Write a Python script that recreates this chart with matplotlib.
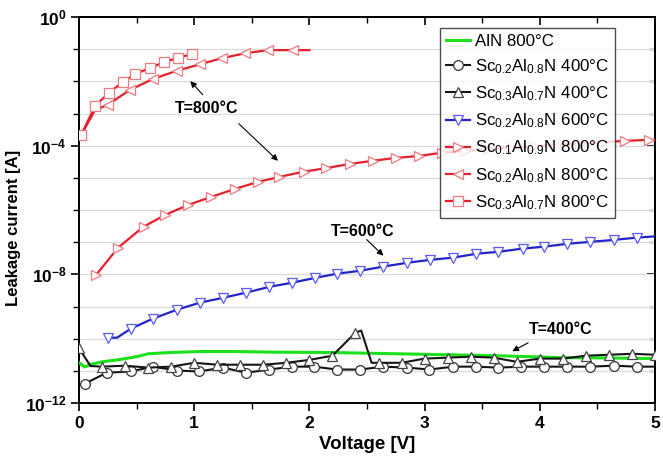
import numpy as np
import matplotlib
matplotlib.use("Agg")
import matplotlib.pyplot as plt
from matplotlib.ticker import FixedLocator, NullFormatter, FixedFormatter

# -----------------------
# Data (current as log10 exponent)
# -----------------------
aln_800_v = [0, 0.05, 0.1, 0.2, 0.35, 0.5, 0.6, 0.8, 1.05, 1.35, 1.7, 2.18,
             2.76, 3.2, 3.63, 4.2, 4.6, 5.0]
aln_800_log = [-10.75, -10.88, -10.8, -10.72, -10.65, -10.56, -10.47, -10.43,
               -10.40, -10.40, -10.42, -10.43, -10.47, -10.5, -10.53, -10.59,
               -10.6, -10.62]

sc02_400_v = [0.05, 0.24, 0.45, 0.64, 0.85, 1.04, 1.25, 1.45, 1.65, 1.85, 2.04,
              2.24, 2.44, 2.64, 2.85, 3.04, 3.25, 3.45, 3.64, 3.84, 4.04, 4.24,
              4.44, 4.64, 4.84, 5.0]
sc02_400_log = [-11.4, -11.06, -11.02, -10.87, -10.99, -11.02, -10.9, -11.06,
                -10.96, -10.87, -10.87, -10.96, -10.96, -10.87, -10.9, -10.96,
                -10.87, -10.87, -10.9, -10.87, -10.87, -10.87, -10.87, -10.84,
                -10.87, -10.87]
sc02_400_marks = list(range(25))

sc03_400_v = [0, 0.1, 0.2, 0.4, 0.6, 0.8, 1.0, 1.2, 1.4, 1.6, 1.8, 2.0, 2.2,
              2.4, 2.45, 2.54, 2.6, 2.8, 3.0, 3.2, 3.4, 3.6, 3.8, 4.0, 4.2,
              4.4, 4.6, 4.8, 5.0]
sc03_400_log = [-10.3, -10.85, -10.87, -10.84, -10.9, -10.87, -10.75, -10.81,
                -10.81, -10.81, -10.75, -10.66, -10.53, -9.81, -9.75, -10.75,
                -10.75, -10.75, -10.62, -10.59, -10.56, -10.59, -10.72, -10.62,
                -10.62, -10.53, -10.5, -10.47, -10.5]
sc03_400_marks = [i for i in range(29) if i not in (1, 14, 15)]

sc02_600_v = [0.25, 0.33, 0.45, 0.64, 0.85, 1.05, 1.25, 1.45, 1.65, 1.85, 2.05,
              2.24, 2.44, 2.64, 2.85, 3.05, 3.25, 3.45, 3.64, 3.85, 4.04, 4.24,
              4.44, 4.64, 4.84, 5.0]
sc02_600_log = [-9.97, -9.97, -9.69, -9.38, -9.10, -8.88, -8.73, -8.57, -8.39,
                -8.26, -8.11, -7.98, -7.89, -7.76, -7.64, -7.55, -7.48, -7.36,
                -7.30, -7.20, -7.14, -7.05, -6.99, -6.93, -6.86, -6.82]
sc02_600_marks = [i for i in range(25) if i != 1]

sc01_800_v = [0.15, 0.34, 0.56, 0.75, 0.95, 1.15, 1.35, 1.55, 1.74, 1.95, 2.14,
              2.35, 2.55, 2.75, 2.95, 3.15, 3.35, 3.55, 3.75, 3.95, 4.15, 4.35,
              4.55, 4.74, 4.95, 5.0]
sc01_800_log = [-8.01, -7.17, -6.52, -6.15, -5.84, -5.59, -5.35, -5.13, -4.97,
                -4.81, -4.70, -4.57, -4.47, -4.38, -4.32, -4.22, -4.16, -4.11,
                -4.06, -4.02, -3.98, -3.94, -3.89, -3.85, -3.82, -3.82]
sc01_800_marks = list(range(25))

sc02_800_v = [0.02, 0.14, 0.25, 0.44, 0.64, 0.85, 1.05, 1.24, 1.44, 1.64, 1.86, 2.0]
sc02_800_log = [-3.66, -2.89, -2.73, -2.27, -1.93, -1.67, -1.47, -1.28, -1.13,
                -1.03, -1.03, -1.03]
sc02_800_marks = [0, 2, 3, 4, 5, 6, 7, 8, 9, 10]

sc03_800_v = [0.02, 0.14, 0.26, 0.38, 0.49, 0.62, 0.74, 0.86, 0.98]
sc03_800_log = [-3.66, -2.76, -2.36, -2.02, -1.77, -1.58, -1.40, -1.27, -1.15]

y_tick_exp = [0, -4, -8, -12]

# -----------------------
# Style
# -----------------------
plt.rcParams["font.family"] = ["Liberation Sans", "DejaVu Sans"]
plt.rcParams["mathtext.fontset"] = "custom"
plt.rcParams["mathtext.rm"] = "Liberation Sans"
plt.rcParams["mathtext.it"] = "Liberation Sans:italic"
plt.rcParams["mathtext.bf"] = "Liberation Sans:bold"
plt.rcParams["mathtext.default"] = "regular"

RED = "#e3202c"
RED_MK = "#f07a80"
BLUE = "#2323c8"
BLUE_MK = "#5a5aff"
GREEN = "#1be01b"
BLACK = "#151515"

fig = plt.figure(figsize=(6.63, 4.57), dpi=100)
ax = fig.add_axes([79 / 663, 54 / 457, 576 / 663, 386 / 457])


def pw(vals):
    return [10.0 ** v for v in vals]


mk = dict(markersize=7, markerfacecolor="white", markeredgewidth=0.9)

ax.plot(aln_800_v, pw(aln_800_log), color=GREEN, lw=2.2, label="AlN 800°C", zorder=3)
ax.plot(sc02_400_v, pw(sc02_400_log), color=BLACK, lw=1.5, marker="o",
        markeredgecolor="#333333", markevery=sc02_400_marks,
        label="Sc$_{0.2}$Al$_{0.8}$N 400°C", zorder=4, **mk)
ax.plot(sc03_400_v, pw(sc03_400_log), color=BLACK, lw=1.5, marker="^",
        markeredgecolor="#444444", markevery=sc03_400_marks,
        label="Sc$_{0.3}$Al$_{0.7}$N 400°C", zorder=4, **mk)
ax.plot(sc02_600_v, pw(sc02_600_log), color=BLUE, lw=1.6, marker="v",
        markeredgecolor=BLUE_MK, markevery=sc02_600_marks,
        label="Sc$_{0.2}$Al$_{0.8}$N 600°C", zorder=4, **mk)
ax.plot(sc01_800_v, pw(sc01_800_log), color=RED, lw=1.6, marker=">",
        markeredgecolor=RED_MK, markevery=sc01_800_marks,
        label="Sc$_{0.1}$Al$_{0.9}$N 800°C", zorder=4, **mk)
ax.plot(sc02_800_v, pw(sc02_800_log), color=RED, lw=1.6, marker="<",
        markeredgecolor=RED_MK, markevery=sc02_800_marks,
        label="Sc$_{0.2}$Al$_{0.8}$N 800°C", zorder=4, **mk)
ax.plot(sc03_800_v, pw(sc03_800_log), color=RED, lw=1.6, marker="s",
        markeredgecolor=RED_MK, markersize=6.5, markerfacecolor="white",
        markeredgewidth=0.9, label="Sc$_{0.3}$Al$_{0.7}$N 800°C", zorder=4)

# -----------------------
# Axes
# -----------------------
ax.set_yscale("log")
ax.set_xlim(0, 5)
ax.set_ylim(1e-12, 1e0)

decades = [10.0 ** e for e in range(-12, 1)]
ax.yaxis.set_major_locator(FixedLocator([10.0 ** e for e in y_tick_exp]))
ax.yaxis.set_major_formatter(FixedFormatter(
    [r"$\mathbf{10^{%d}}$" % e for e in y_tick_exp]))
ax.yaxis.set_minor_locator(FixedLocator(decades))
ax.yaxis.set_minor_formatter(NullFormatter())
ax.xaxis.set_major_locator(FixedLocator([0, 1, 2, 3, 4, 5]))
ax.xaxis.set_minor_locator(FixedLocator([0.5, 1.5, 2.5, 3.5, 4.5]))

ax.grid(True, axis="y", which="both", color="#dcdcdc", lw=0.9, zorder=0)
ax.set_axisbelow(True)

ax.tick_params(which="major", direction="out", length=6, width=1.2,
               labelsize=12.5, pad=3)
ax.tick_params(which="minor", direction="out", length=4, width=1.0)
for lab in ax.get_xticklabels():
    lab.set_fontweight("bold")

for sp in ax.spines.values():
    sp.set_linewidth(1.4)

top = ax.secondary_xaxis("top")
top.xaxis.set_major_locator(FixedLocator([0, 1, 2, 3, 4, 5]))
top.xaxis.set_minor_locator(FixedLocator([0.5, 1.5, 2.5, 3.5, 4.5]))
top.tick_params(which="major", direction="in", length=6, width=1.2, labeltop=False)
top.tick_params(which="minor", direction="in", length=4, width=1.0)
top.spines["top"].set_linewidth(1.4)

right = ax.secondary_yaxis("right")
right.set_yscale("log")
right.yaxis.set_major_locator(FixedLocator([10.0 ** e for e in y_tick_exp]))
right.yaxis.set_minor_locator(FixedLocator(decades))
right.yaxis.set_minor_formatter(NullFormatter())
right.tick_params(which="major", direction="in", length=6, width=1.2, labelright=False)
right.tick_params(which="minor", direction="in", length=4, width=1.0)
right.spines["right"].set_linewidth(1.4)

ax.set_xlabel("Voltage [V]", fontsize=13.5, fontweight="bold")
ax.xaxis.set_label_coords(0.5, -0.086)
ax.set_ylabel("Leakage current [A]", fontsize=12, fontweight="bold")
ax.yaxis.set_label_coords(-0.1, 0.453)

# -----------------------
# Annotations
# -----------------------
arw = dict(arrowstyle="-|>", color="black", lw=0.8, mutation_scale=9)
ax.text(1.11, 10 ** -2.86, "T=800°C", fontsize=11.5, fontweight="bold",
        ha="center", va="center", zorder=6)
ax.annotate("", xy=(0.95, 10 ** -1.93), xytext=(1.09, 10 ** -2.48), arrowprops=arw)
ax.annotate("", xy=(1.745, 10 ** -4.53), xytext=(1.37, 10 ** -3.26), arrowprops=arw)

ax.text(2.46, 10 ** -6.68, "T=600°C", fontsize=11.5, fontweight="bold",
        ha="center", va="center", zorder=6)
ax.annotate("", xy=(2.66, 10 ** -7.48), xytext=(2.48, 10 ** -6.86), arrowprops=arw)

ax.text(4.18, 10 ** -9.72, "T=400°C", fontsize=11.5, fontweight="bold",
        ha="center", va="center", zorder=6)
ax.annotate("", xy=(3.74, 10 ** -10.43), xytext=(3.92, 10 ** -10.09), arrowprops=arw)

leg = ax.legend(loc="upper left", bbox_to_anchor=(0.627, 0.972), fontsize=12.2,
                frameon=True, fancybox=False, edgecolor="#222222",
                handlelength=1.4, handletextpad=0.3, labelspacing=0.5,
                borderpad=0.35, borderaxespad=0.0)
leg.get_frame().set_linewidth(1.0)
leg.set_zorder(10)

plt.savefig("out.png", dpi=100)
